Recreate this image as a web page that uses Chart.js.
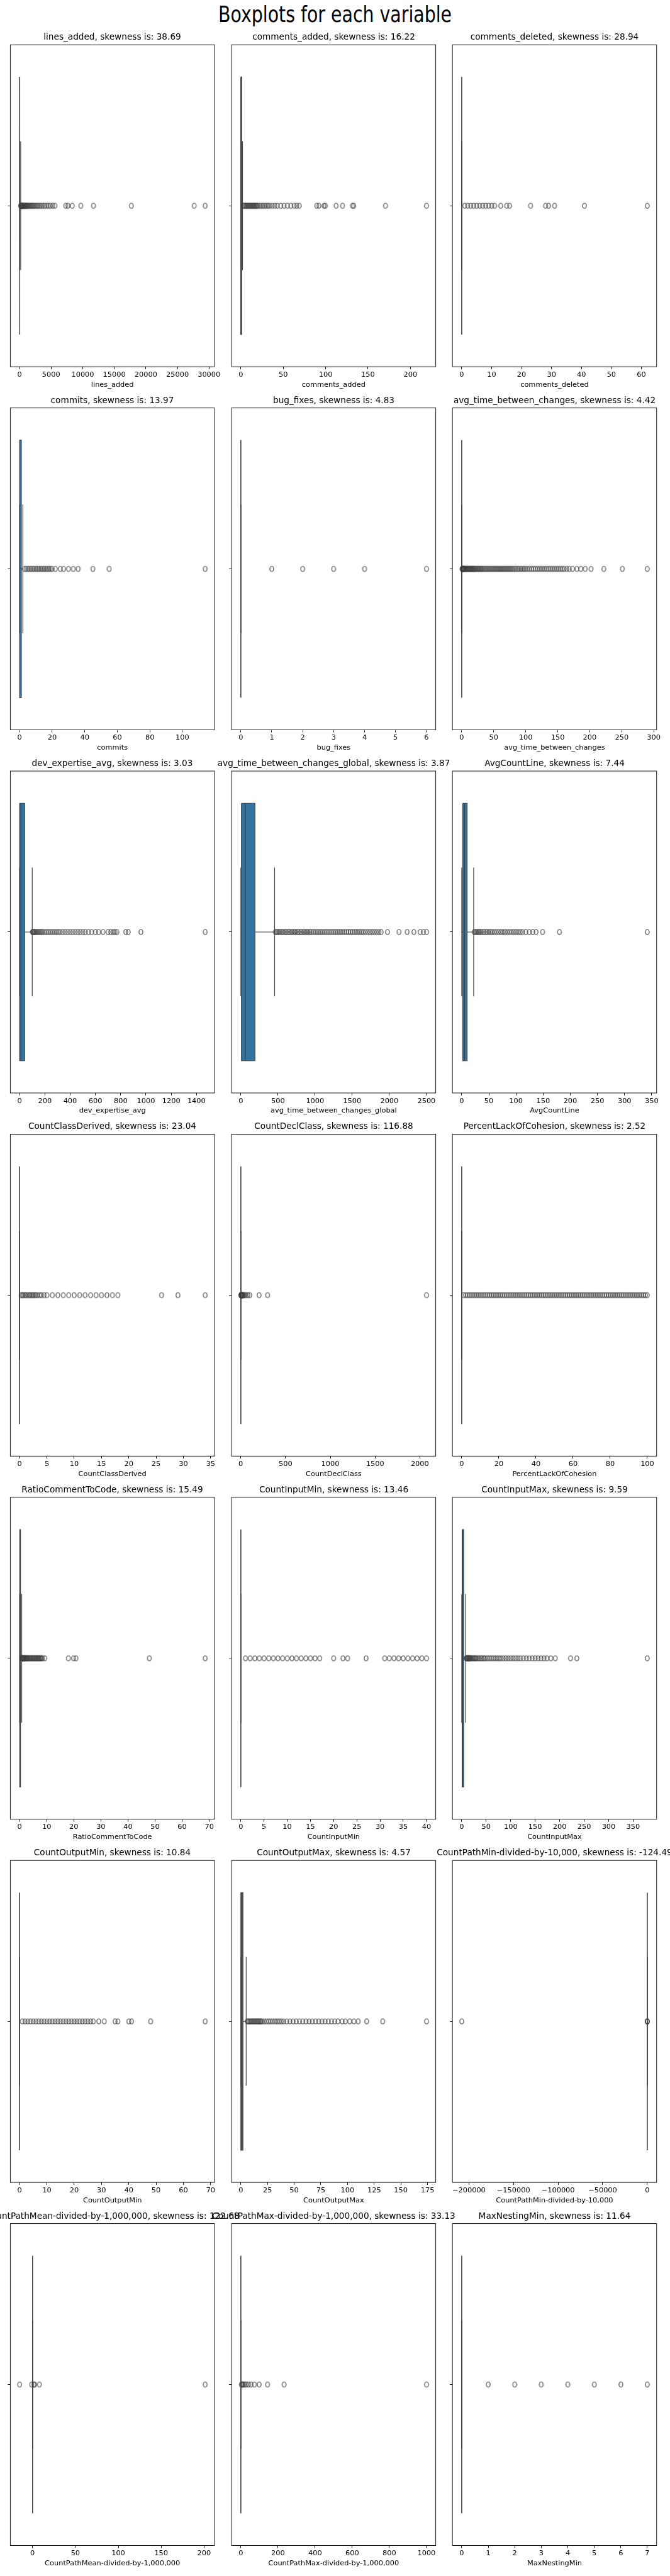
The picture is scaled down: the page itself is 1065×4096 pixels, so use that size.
<!DOCTYPE html>
<html>
<head>
<meta charset="utf-8">
<script src="https://cdn.jsdelivr.net/npm/chart.js@4.4.1/dist/chart.umd.min.js"></script>
<style>
html,body{margin:0;padding:0;background:#fff;}
#page{position:relative;width:1065px;height:4096px;overflow:hidden;background:#fff;}
#suptitle{position:absolute;left:0;width:1065px;text-align:center;font-family:"DejaVu Sans",sans-serif;font-size:28.4px;line-height:normal;top:2px;white-space:nowrap;color:#000;transform:scaleY(1.25);transform-origin:50% 0;}
canvas{position:absolute;}
</style>
</head>
<body>
<div id="page"><div id="suptitle">Boxplots for each variable</div></div>
<script>
// ---------------- DATA ----------------
const variables = ['lines_added','comments_added','comments_deleted','commits','bug_fixes','avg_time_between_changes','dev_expertise_avg','avg_time_between_changes_global','AvgCountLine','CountClassDerived','CountDeclClass','PercentLackOfCohesion','RatioCommentToCode','CountInputMin','CountInputMax','CountOutputMin','CountOutputMax','CountPathMin-divided-by-10,000','CountPathMean-divided-by-1,000,000','CountPathMax-divided-by-1,000,000','MaxNestingMin'];

const skewness = ['38.69','16.22','28.94','13.97','4.83','4.42','3.03','3.87','7.44','23.04','116.88','2.52','15.49','13.46','9.59','10.84','4.57','-124.49','122.68','33.13','11.64'];

const tickValues = [
  [0,5000,10000,15000,20000,25000,30000],
  [0,50,100,150,200],
  [0,10,20,30,40,50,60],
  [0,20,40,60,80,100],
  [0,1,2,3,4,5,6],
  [0,50,100,150,200,250,300],
  [0,200,400,600,800,1000,1200,1400],
  [0,500,1000,1500,2000,2500],
  [0,50,100,150,200,250,300,350],
  [0,5,10,15,20,25,30,35],
  [0,500,1000,1500,2000],
  [0,20,40,60,80,100],
  [0,10,20,30,40,50,60,70],
  [0,5,10,15,20,25,30,35,40],
  [0,50,100,150,200,250,300,350],
  [0,10,20,30,40,50,60,70],
  [0,25,50,75,100,125,150,175],
  [-200000,-150000,-100000,-50000,0],
  [0,50,100,150,200],
  [0,200,400,600,800,1000],
  [0,1,2,3,4,5,6,7]
];

const whiskerLow  = [0,0,0,0,0,0,0,0,0,0,1,0,0,0,0,0,0,0,0,0,0];
const q1          = [2,0,0,0,0,0,0,8,2,0,1,0,0.05,0,1,0,0,0,0,0,0];
const median      = [15,0,0,1,0,0,10,60,5,0,1,0,0.15,0,2,0,1,0,0,0,0];
const q3          = [70,1,0,1,0,0,40,190,10,0,1,0,0.35,0,4,0,2,0,0,0,0];
const whiskerHigh = [170,2,0,2,0,0,100,455,22,0,1,0,0.8,0,8,0,5,0,0,0,0];

const outliers = [
  [175,200,230,260,300,340,380,430,480,540,600,670,750,830,920,1010,1100,1200,1320,1450,1600,1750,1900,2050,2200,2400,2600,2800,3000,3250,3500,3750,4000,4300,4600,4900,5250,5600,7300,7650,8350,9700,11700,17700,27650,29400],
  [3,4,5,6,7,8,9,10,11,12,13,14,15,16,17,18,19,20,22,24,26,28,30,32,34,37,40,43,47,51,55,59,63,66,69,89.6,92.2,98.2,99.8,112.4,120,131.7,133.2,170.6,219],
  [1,2,3,4,5,6,7,8,9,10,11,13,15,16,23,28,29,31,41,62],
  [3,4,5,6,7,8,9,10,11,12,13,14,15,16,17,18,19,20,22,25,27,30,33,36,45,55,114],
  [1,2,3,4,6],
  [0.5,1,1.5,2,2.5,3,3.5,4,5,6,7,8,9,10,11,12,13,14,15,16,17,18,19,20,21.5,23,24.5,26,27.5,29,30.5,32,34,36,38,40,42,44,46,48,50,52,54,56,58,60,62,64,66,68,70,72,74,76,78,80,82.5,85,87.5,90,92.5,95,97.5,100,103,106,109,112,115,118,121,124,127,130,133,136,139,142,145,148,151,154,157,160,164,168,173,180,186,193,202,222,251,290],
  [102,105,110,115,120,128,136,145,155,165,175,185,200,215,230,245,260,275,290,305,320,340,360,380,400,420,440,460,480,500,520,545,570,600,625,660,700,720,740,755,770,840,860,960,1469],
  [465,480,495,510,530,550,570,590,610,630,650,670,690,710,730,750,770,790,810,830,850,870,890,910,930,950,975,1000,1025,1050,1075,1100,1125,1150,1175,1200,1225,1250,1275,1300,1325,1350,1375,1400,1425,1450,1475,1500,1525,1550,1575,1600,1625,1650,1680,1710,1740,1770,1800,1830,1860,1890,1975,2130,2240,2330,2415,2460,2500],
  [23,25,27,29,31,33,35,38,41,44,47,50,53,56,60,64,68,72,76,80,84,88,92,96,100,104,108,112,118,124.5,131,137,149,180,342],
  [0.3,0.5,0.7,1,1.2,1.5,1.8,2,2.3,2.5,2.8,3,3.3,3.7,4,4.5,5,6,7,8,9,10,11,12,13,14,15,16,17,18,26,29,34],
  [2,3,4,5,6,8,10,12,15,18,22,27,35,45,60,80,100,205,300,2074],
  [1,2,3,4,5,6,7,8,9,10,11,12,13,14,15,16,17,18,19,20,21,22,23,24,25,26,27,28,29,30,31,32,33,34,35,36,37,38,39,40,41,42,43,44,45,46,47,48,49,50,51,52,53,54,55,56,57,58,59,60,61,62,63,64,65,66,67,68,69,70,71,72,73,74,75,76,77,78,79,80,81,82,83,84,85,86,87,88,89,90,91,92,93,94,95,96,97,98,99,100],
  [0.85,0.9,1,1.1,1.2,1.35,1.5,1.65,1.8,2,2.2,2.4,2.6,2.8,3,3.3,3.6,3.9,4.2,4.5,4.8,5.1,5.4,5.7,6,6.3,6.6,6.9,7.2,7.5,7.8,8.1,8.5,9.3,18,19.9,20.8,47.9,68.5],
  [1,2,3,4,5,6,7,8,9,10,11,12,13,14,15,16,17,20,22,23,27,31,32,33,34,35,36,37,38,39,40],
  [9,10,11,12,13,14,15,16,17,18,20,22,24,26,28,30,33,36,39,42,45,48,52,56,60,64,68,72,76,80,85,90,95,100,105,110,115,120,126,132,138,144,150,156,162,168,174,182,191,222,235,379],
  [1,2,3,4,5,6,7,8,9,10,11,12,13,14,15,16,17,18,19,20,21,22,23,24,25,26,27,29,31,35,36,40,41,48,68],
  [6,7,8,9,10,11,12,13,14,15,16,17,18,19,20,22,24,26,28,30,32,34,36,38,40,43,46,49,52,55,58,61,64,67,70,73,76,79,82,85,88,91,95,98,102,106,110,118,133,174],
  [-208100,-30,10,40,80],
  [-15.1,-1,1.5,2.5,8,201.4],
  [3,6,10,15,22,30,42,55,73,99,144,233,1000],
  [1,2,3,4,5,6,7]
];

// ---------------- STYLE / LAYOUT ----------------
const S = 0.819;
const FONT = '"DejaVu Sans", sans-serif';
const BOX_COLOR = '#3274a1';
const LINE_COLOR = '#3f3f3f';
const LW = 1.15;
const BOX_HALF = 0.4, CAP_HALF = 0.2;
const COLS = [20, 449.4, 878.1], PANEL_W = 396.3, ROW0 = 87, ROW_STEP = 705, PANEL_H = 625;
const TITLE_SIZE = 13.65, TICK_SIZE = 11.37;
const FLIER_RX = 3.1, FLIER_RY = 4.0, FLIER_LW = 1.15;

Chart.defaults.font.family = FONT;

// open oval marker used as the point style of the outlier dataset
function makeFlierStyle() {
  const c = document.createElement('canvas');
  const w = Math.ceil(2 * (FLIER_RX + FLIER_LW)) + 1, h = Math.ceil(2 * (FLIER_RY + FLIER_LW)) + 1;
  c.width = w; c.height = h;
  const g = c.getContext('2d');
  g.strokeStyle = LINE_COLOR; g.lineWidth = FLIER_LW;
  g.beginPath(); g.ellipse(w / 2, h / 2, FLIER_RX, FLIER_RY, 0, 0, 2 * Math.PI); g.stroke();
  return c;
}
const flierStyle = makeFlierStyle();

const framePlugin = {
  id: 'frame',
  afterDatasetsDraw(chart) {
    const {ctx, chartArea: a} = chart;
    ctx.save();
    ctx.strokeStyle = '#000';
    ctx.lineWidth = 0.9;
    ctx.strokeRect(a.left, a.top, a.right - a.left, a.bottom - a.top);
    ctx.restore();
  }
};

const fmt = v => (v < 0 ? '\u2212' + Math.abs(v) : String(v));
const page = document.getElementById('page');

function buildChart(i) {
  const r = Math.floor(i / 3), c = i % 3;
  const pl = COLS[c] * S, pt = (ROW0 + ROW_STEP * r) * S, pw = PANEL_W * S, ph = PANEL_H * S;
  const M = 70;
  const cl = Math.floor(pl - M), cr = Math.ceil(pl + pw + M);
  const leftW = pl - cl, rightW = cr - pl - pw;
  const ct = Math.floor(pt - 26), cb = Math.ceil(pt + ph + 42);
  const titleBlock = pt - ct;
  const xH = cb - pt - ph;
  const titleLH = TITLE_SIZE * 1.2, tickLH = TICK_SIZE * 1.2;
  const titlePadBottom = 3.36;
  const titlePadTop = titleBlock - titleLH - titlePadBottom;
  const xTitleCenter = 28.6;
  const xTitlePadBottom = xH - xTitleCenter - tickLH / 2;

  const cv = document.createElement('canvas');
  cv.width = cr - cl; cv.height = cb - ct;
  cv.style.left = cl + 'px'; cv.style.top = ct + 'px';
  page.appendChild(cv);

  const vals = [whiskerLow[i], whiskerHigh[i], ...outliers[i]];
  const lo = Math.min(...vals), hi = Math.max(...vals);
  const pad = 0.05 * (hi - lo);

  const seg = (pts, order, extra) => Object.assign({
    data: pts, showLine: true, borderColor: LINE_COLOR, borderWidth: LW,
    pointRadius: 0, pointHoverRadius: 0, fill: false, tension: 0, order
  }, extra || {});

  const datasets = [
    seg([{x: q1[i], y: -BOX_HALF}, {x: q3[i], y: -BOX_HALF}, {x: q3[i], y: BOX_HALF}, {x: q1[i], y: BOX_HALF}, {x: q1[i], y: -BOX_HALF}], 6, {fill: 'shape', backgroundColor: BOX_COLOR}),
    seg([{x: whiskerLow[i], y: 0}, {x: q1[i], y: 0}], 5),
    seg([{x: q3[i], y: 0}, {x: whiskerHigh[i], y: 0}], 5),
    seg([{x: whiskerLow[i], y: -CAP_HALF}, {x: whiskerLow[i], y: CAP_HALF}], 4),
    seg([{x: whiskerHigh[i], y: -CAP_HALF}, {x: whiskerHigh[i], y: CAP_HALF}], 4),
    seg([{x: median[i], y: -BOX_HALF}, {x: median[i], y: BOX_HALF}], 3),
    {
      data: outliers[i].map(v => ({x: v, y: 0})),
      showLine: false, pointStyle: flierStyle, pointRadius: FLIER_RY, pointHoverRadius: FLIER_RY,
      borderColor: LINE_COLOR, backgroundColor: 'rgba(0,0,0,0)', order: 1
    }
  ];

  new Chart(cv, {
    type: 'scatter',
    data: {datasets},
    options: {
      responsive: false, animation: false, devicePixelRatio: 1,
      events: [],
      layout: {padding: 0},
      plugins: {
        legend: {display: false},
        tooltip: {enabled: false},
        title: {
          display: true, text: variables[i] + ', skewness is: ' + skewness[i],
          color: '#000', align: 'center',
          font: {family: FONT, size: TITLE_SIZE, weight: 'normal', lineHeight: 1.2},
          padding: {top: titlePadTop, bottom: titlePadBottom}
        }
      },
      scales: {
        x: {
          type: 'linear', position: 'bottom', min: lo - pad, max: hi + pad,
          afterBuildTicks: s => { s.ticks = tickValues[i].map(v => ({value: v})); },
          afterFit: s => { s.height = xH; },
          ticks: {autoSkip: false, maxRotation: 0, minRotation: 0, padding: 2, color: '#000',
                  font: {family: FONT, size: TICK_SIZE}, callback: v => fmt(v)},
          grid: {display: true, drawOnChartArea: false, drawTicks: true, tickLength: 4, color: '#000', lineWidth: 0.9},
          border: {display: false},
          title: {display: true, text: variables[i], color: '#000',
                  font: {family: FONT, size: TICK_SIZE, lineHeight: 1.2},
                  padding: {top: 0, bottom: xTitlePadBottom}}
        },
        y: {
          type: 'linear', position: 'left', min: -0.5, max: 0.5, reverse: true,
          afterBuildTicks: s => { s.ticks = [{value: 0}]; },
          afterFit: s => { s.width = leftW; },
          ticks: {padding: 0, callback: () => ''},
          grid: {display: true, drawOnChartArea: false, drawTicks: true, tickLength: 4, color: '#000', lineWidth: 0.9},
          border: {display: false}
        },
        y2: {
          type: 'linear', position: 'right', min: -0.5, max: 0.5, display: true,
          afterFit: s => { s.width = rightW; },
          ticks: {display: false},
          grid: {display: false},
          border: {display: false}
        }
      }
    },
    plugins: [framePlugin]
  });
}

for (let i = 0; i < variables.length; i++) buildChart(i);
</script>
</body>
</html>
